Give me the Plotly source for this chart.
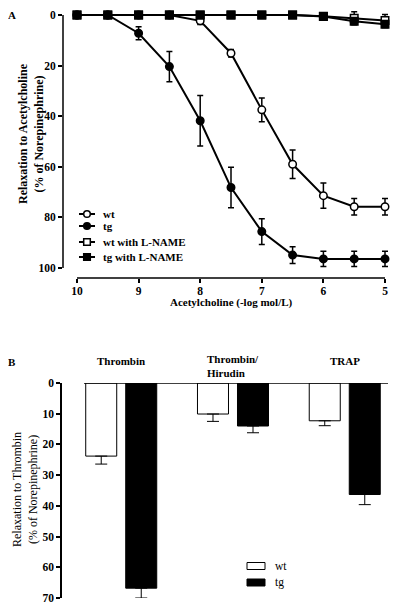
import plotly.graph_objects as go

# ---------------- Data: panel A ----------------
ach_dose = [10, 9.5, 9, 8.5, 8, 7.5, 7, 6.5, 6, 5.5, 5]
wt = [0, 0, 0, 0, 2.3, 15.1, 37.5, 59.0, 71.4, 75.8, 75.8]
wt_err = [0, 0, 0, 0, 1.5, 1.5, 4.7, 5.6, 5.0, 3.3, 3.3]
tg = [0, 0, 7.2, 20.4, 41.8, 68.2, 85.6, 94.9, 96.4, 96.4, 96.4]
tg_err = [0, 0, 2.6, 6.0, 10.0, 8.0, 5.1, 3.3, 3.0, 3.0, 3.0]
wt_lname = [0, 0, 0, 0, 0, 0, 0, 0, 0.5, 1.3, 2.2]
wt_lname_err = [0, 0, 0, 0, 0, 0, 0, 0, 0, 2.6, 2.4]
tg_lname = [0, 0, 0, 0, 0, 0, 0, 0, 0.6, 2.5, 3.7]
tg_lname_err = [0, 0, 0, 0, 0, 0, 0, 0, 0, 1.2, 1.2]
a_xticks = [10, 9, 8, 7, 6, 5]
a_yticks = [0, 20, 40, 60, 80, 100]

# ---------------- Data: panel B ----------------
b_categories = ["Thrombin", "Thrombin/<br>Hirudin", "TRAP"]
b_wt = [23.8, 10.1, 12.3]
b_wt_err = [2.6, 2.4, 1.6]
b_tg = [66.8, 14.0, 36.3]
b_tg_err = [3.2, 2.2, 3.3]
b_yticks = [0, 10, 20, 30, 40, 50, 60, 70]

# The page body has an 8px margin, so the figure is drawn 8px in from the window corner.
OFF = 8
W, H = 400 - OFF, 611 - OFF
FONT = "Liberation Serif"


def px(x):
    return (x - OFF) / W


def py(y):
    return 1 - (y - OFF) / H


fig = go.Figure()

series = [
    (wt, wt_err, "circle", "white", "wt"),
    (tg, tg_err, "circle", "black", "tg"),
    (wt_lname, wt_lname_err, "square", "white", "wt with L-NAME"),
    (tg_lname, tg_lname_err, "square", "black", "tg with L-NAME"),
]
for vals, errs, sym, fill, name in series:
    fig.add_trace(go.Scatter(
        x=ach_dose, y=vals, name=name, mode="lines+markers",
        line=dict(color="black", width=2),
        marker=dict(symbol=sym, size=7.5, color=fill, line=dict(color="black", width=1.5)),
        error_y=dict(type="data", array=errs, visible=True, color="black", thickness=1.5, width=3),
        cliponaxis=False, showlegend=False, xaxis="x", yaxis="y",
    ))

fig.add_trace(go.Bar(
    x=b_categories, y=b_wt, name="wt",
    marker=dict(color="white", line=dict(color="black", width=1)),
    error_y=dict(type="data", array=b_wt_err, arrayminus=[0] * 3, symmetric=False,
                 color="black", thickness=1, width=6),
    showlegend=False, xaxis="x2", yaxis="y2",
))
fig.add_trace(go.Bar(
    x=b_categories, y=b_tg, name="tg",
    marker=dict(color="black", line=dict(color="black", width=1)),
    error_y=dict(type="data", array=b_tg_err, arrayminus=[0] * 3, symmetric=False,
                 color="black", thickness=1, width=6),
    showlegend=False, xaxis="x2", yaxis="y2",
))

tickfont = dict(family=FONT, size=11.5, color="black", weight="bold")

# Panel A axes: x=10 at px 77, x=5 at px 385 ; y=0 at py 15, y=100 at py 268
xa_l, xa_r = 63, 392
sx = 61.6
ya_t, ya_b = 10, 278
sy = 2.53

fig.update_layout(
    template="none",
    width=W, height=H, margin=dict(l=0, r=0, t=0, b=0, autoexpand=False),
    paper_bgcolor="white", plot_bgcolor="white",
    font=dict(family=FONT, color="black"),
    showlegend=False,
    barmode="group", bargap=0.284, bargroupgap=0.225,
    xaxis=dict(
        domain=[px(xa_l), px(xa_r)],
        range=[10 - (xa_l - 77) / sx, 10 - (xa_r - 77) / sx],
        tickvals=a_xticks, ticktext=[str(v) for v in a_xticks],
        ticks="outside", ticklen=4, tickwidth=1.5, tickcolor="black",
        ticklabelstandoff=-2,
        showline=False, showgrid=False, zeroline=False, automargin=False,
        tickfont=tickfont, anchor="y",
    ),
    yaxis=dict(
        domain=[py(ya_b), py(ya_t)],
        range=[(ya_b - 15) / sy, (ya_t - 15) / sy],
        tickvals=a_yticks,
        ticks="outside", ticklen=4, tickwidth=1.5, tickcolor="black",
        showline=False, showgrid=False, zeroline=False, automargin=False,
        tickfont=tickfont, anchor="x",
    ),
    xaxis2=dict(
        domain=[px(62), px(388)], range=[-0.53, 2.387],
        visible=False, anchor="y2", type="category", automargin=False,
    ),
    yaxis2=dict(
        domain=[py(598), py(383)], range=[70, 0],
        tickvals=b_yticks,
        ticks="outside", ticklen=4, tickwidth=1.5, tickcolor="black",
        showline=True, linecolor="black", linewidth=1.5,
        showgrid=False, zeroline=False, automargin=False,
        tickfont=tickfont, anchor="x2",
    ),
)

shapes = []
# Panel A offset axis lines
shapes.append(dict(type="line", xref="paper", yref="y", x0=px(63), x1=px(63), y0=0, y1=100,
                   line=dict(color="black", width=1.5)))
shapes.append(dict(type="line", xref="x", yref="paper", x0=10, x1=5, y0=py(278), y1=py(278),
                   line=dict(color="black", width=1.5)))
# Panel B baseline
shapes.append(dict(type="line", xref="paper", yref="y2", x0=px(84), x1=px(388), y0=0, y1=0,
                   line=dict(color="black", width=1.5)))

annotations = []
# Panel A legend
legend_rows = [(214, "circle", "white", "wt"), (226, "circle", "black", "tg"),
               (242, "square", "white", "wt with L-NAME"), (257, "square", "black", "tg with L-NAME")]
for yy, sym, fill, label in legend_rows:
    shapes.append(dict(type="line", xref="paper", yref="paper", x0=px(79), x1=px(95),
                       y0=py(yy), y1=py(yy), line=dict(color="black", width=2)))
    r = 3.3
    shapes.append(dict(type="circle" if sym == "circle" else "rect", xref="paper", yref="paper",
                       x0=px(87 - r), x1=px(87 + r), y0=py(yy - r), y1=py(yy + r),
                       fillcolor=fill, line=dict(color="black", width=1.5)))
    annotations.append(dict(text=label, xref="paper", yref="paper", x=px(101), y=py(yy),
                            xanchor="left", yanchor="middle", showarrow=False,
                            font=dict(family=FONT, size=11, weight="bold", color="black")))

# Panel B legend
for yy, fill, label in [(566, "white", "wt"), (582.5, "black", "tg")]:
    shapes.append(dict(type="rect", xref="paper", yref="paper", x0=px(247), x1=px(265),
                       y0=py(yy - 3.5), y1=py(yy + 3.5), fillcolor=fill,
                       line=dict(color="black", width=1)))
    annotations.append(dict(text=label, xref="paper", yref="paper", x=px(273), y=py(yy),
                            xanchor="left", yanchor="middle", showarrow=False,
                            font=dict(family=FONT, size=11.5, color="black")))

fig.update_layout(shapes=shapes)

bold = lambda s: dict(family=FONT, size=s, weight="bold", color="black")

annotations += [
    dict(text="A", x=px(12), y=py(OFF), xref="paper", yref="paper", showarrow=False,
         xanchor="center", yanchor="top", borderpad=0, font=bold(11)),
    dict(text="B", x=px(12), y=py(362), xref="paper", yref="paper", showarrow=False,
         xanchor="center", yanchor="middle", font=bold(11)),
    dict(text="Relaxation to Acetylcholine<br>(% of Norepinephrine)", x=px(31), y=py(134),
         xref="paper", yref="paper", showarrow=False, textangle=-90,
         xanchor="center", yanchor="middle", font=bold(12)),
    dict(text="Acetylcholine (-log mol/L)", x=px(231), y=py(302), xref="paper", yref="paper",
         showarrow=False, xanchor="center", yanchor="middle", font=bold(11)),
    dict(text="Relaxation to Thrombin<br>(% of Norepinephrine)", x=px(25), y=py(490),
         xref="paper", yref="paper", showarrow=False, textangle=-90,
         xanchor="center", yanchor="middle", font=dict(family=FONT, size=12, color="black")),
]
# category labels for panel B
for i, cat in enumerate(b_categories):
    annotations.append(dict(text=cat, x=i, y=py(361) if "<br>" not in cat else py(366),
                            xref="x2", yref="paper", showarrow=False,
                            xanchor="center", yanchor="middle", align="left",
                            font=bold(11)))

fig.update_layout(annotations=annotations)

fig.write_html("out.html")
